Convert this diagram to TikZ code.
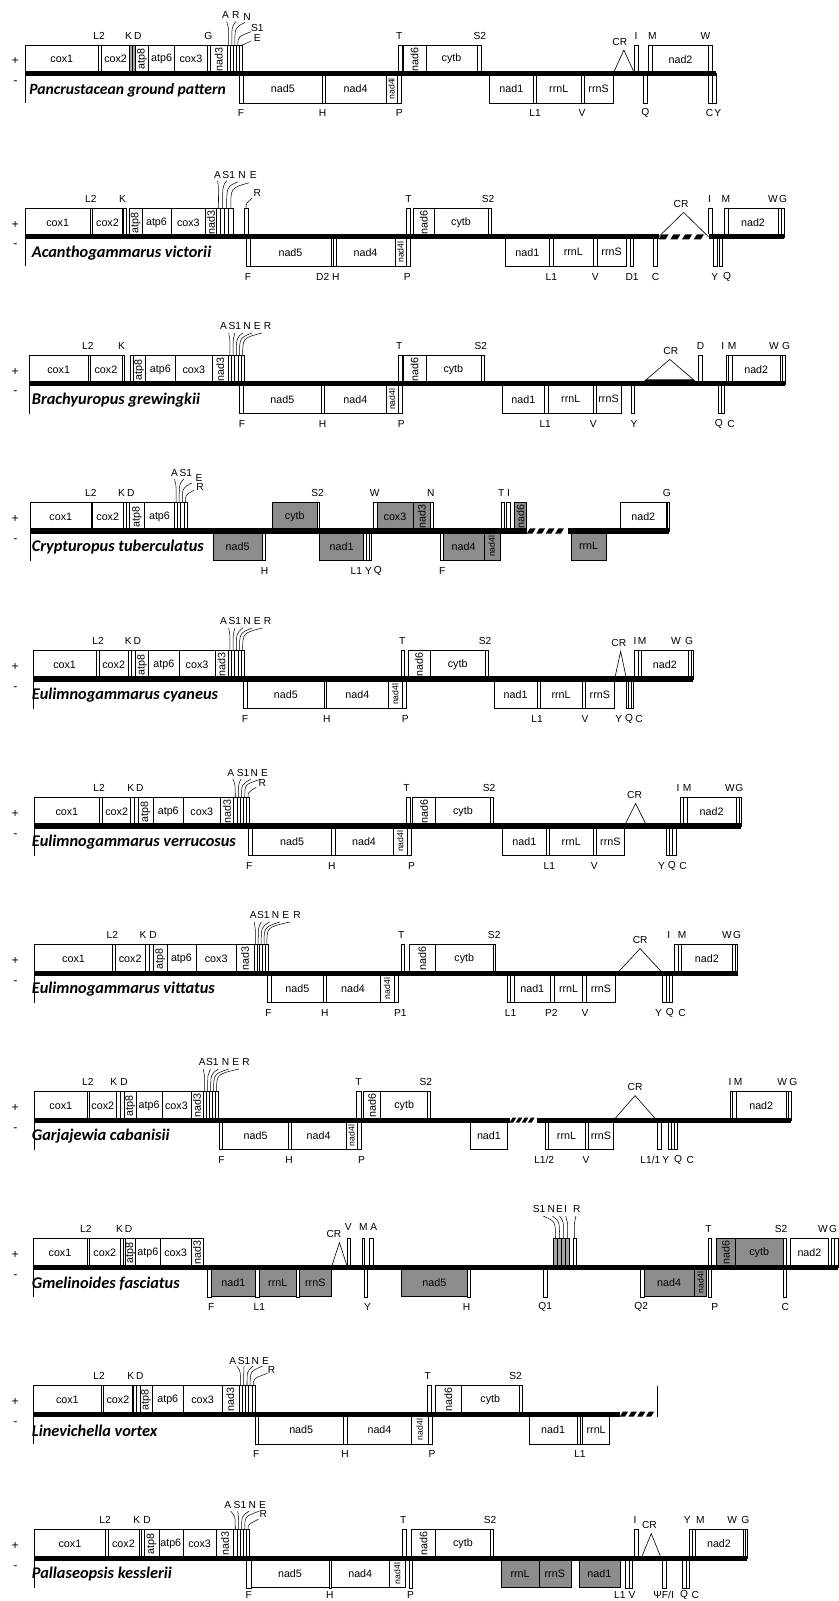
\documentclass[tikz,border=0pt]{standalone}
\usepackage{fontspec}
\setmainfont{Liberation Sans}
\newfontfamily\gf{Liberation Sans}
\newfontfamily\spf{Carlito}
\newcounter{nn}
\newcommand\NN{\stepcounter{nn}\edef\nm{n\arabic{nn}}}
\tikzset{
 gbox/.style={draw=black,line width=0.5pt,fill=white},
 graybox/.style={draw=black,line width=0.5pt,fill=black!45},
 trna/.style={draw=black,line width=0.45pt,fill=white},
 trnag/.style={draw=black,line width=0.45pt,fill=black!35},
 leader/.style={line width=0.5pt},
 gl/.style={font=\gf\fontsize{10.5}{11}\selectfont,inner sep=0pt},
 glr/.style={font=\gf\fontsize{10.5}{11}\selectfont,inner sep=0pt,rotate=90},
 glrs/.style={font=\gf\fontsize{8.5}{9}\selectfont,inner sep=0pt,rotate=90},
 tl/.style={font=\gf\fontsize{10}{11}\selectfont,inner sep=0pt},
 mainline/.style={line width=5pt},
 crl/.style={line width=0.6pt},
 spn/.style={font=\spf\bfseries\itshape\fontsize{16}{17}\selectfont,anchor=west,inner sep=0pt},
 pmn/.style={font=\fontsize{12}{13}\selectfont,inner sep=0pt},
}
\newcommand\gUB[3]{\draw[gbox] (#1,-28) rectangle (#2,0);\NN\node[gl] (\nm) at ({(#1+#2)/2},-14) {#3};}
\newcommand\gUBr[3]{\draw[gbox] (#1,-28) rectangle (#2,0);\NN\node[glr] (\nm) at ({(#1+#2)/2},-14) {#3};}
\newcommand\gUG[3]{\draw[graybox] (#1,-28) rectangle (#2,0);\NN\node[gl] (\nm) at ({(#1+#2)/2},-14) {#3};}
\newcommand\gUGr[3]{\draw[graybox] (#1,-28) rectangle (#2,0);\NN\node[glr] (\nm) at ({(#1+#2)/2},-14) {#3};}
\newcommand\gDB[3]{\draw[gbox] (#1,0) rectangle (#2,29);\NN\node[gl] (\nm) at ({(#1+#2)/2},15) {#3};}
\newcommand\gDBl[2]{\draw[gbox] (#1,0) rectangle (#2,29);\NN\node[glrs] (\nm) at ({(#1+#2)/2},15) {nad4l};}
\newcommand\gDG[3]{\draw[graybox] (#1,0) rectangle (#2,29);\NN\node[gl] (\nm) at ({(#1+#2)/2},15) {#3};}
\newcommand\gDGl[2]{\draw[graybox] (#1,0) rectangle (#2,29);\NN\node[glrs] (\nm) at ({(#1+#2)/2},15) {nad4l};}
\newcommand\gUT[2]{\draw[trna] (#1,-28) rectangle (#2,0);}
\newcommand\gUTg[2]{\draw[trnag] (#1,-28) rectangle (#2,0);}
\newcommand\gDT[2]{\draw[trna] (#1,0) rectangle (#2,29);}
\newcommand\gUTn[3]{\foreach \i in {1,...,#3}{\draw[trna] ({#1+(\i-1)*(#2-#1)/#3},-28) rectangle ({#1+\i*(#2-#1)/#3},0);}}
\newcommand\gUTgn[3]{\foreach \i in {1,...,#3}{\draw[trnag] ({#1+(\i-1)*(#2-#1)/#3},-28) rectangle ({#1+\i*(#2-#1)/#3},0);}}
\newcommand\gDTn[3]{\foreach \i in {1,...,#3}{\draw[trna] ({#1+(\i-1)*(#2-#1)/#3},0) rectangle ({#1+\i*(#2-#1)/#3},29);}}
\newcommand\gTL[2]{\NN\node[tl] (\nm) at (#1,-37) {#2};}
\newcommand\gBL[2]{\NN\node[tl] (\nm) at (#1,39) {#2};}
\newcommand\gBLs[2]{\NN\node[tl] (\nm) at (#1,36) {#2};}
\newcommand\gAL[3]{\NN\node[tl] (\nm) at (#1,#2) {#3};}
\newcommand\gLD[3]{\draw[leader] (#1,-28) .. controls (#1,{#3+5}) .. (#2,#3);}
\newcommand\gCR[4]{\draw[crl] (#1,0) -- ({(#1+#2)/2},#3) -- (#2,0);\NN\node[tl] (\nm) at (#4,{#3-8}) {CR};}
\newcommand\gML[2]{\draw[mainline] (#1,0) -- (#2,0); \draw[line width=0.5pt] (#1,0) -- (#1,29);}
\newcommand\gHT[2]{\fill[white] (#1,-2.6) rectangle (#2,2.6);
 \foreach \k in {0,...,3}{\fill[black] ({#1+3+\k*(#2-#1-3)/4},-2.5) -- ({#1+3+\k*(#2-#1-3)/4+(#2-#1-3)/4*0.6},-2.5) -- ({#1+\k*(#2-#1-3)/4+(#2-#1-3)/4*0.6},2.5) -- ({#1+\k*(#2-#1-3)/4},2.5) -- cycle;}}
\newcommand\gPM{\NN\node[pmn] (\nm) at (15,-12) {+};\NN\node[pmn] (\nm) at (15,9) {-};}
\newcommand\gSP[1]{\NN\node[spn] (\nm) at (31,16) {#1};}
\begin{document}
\begin{tikzpicture}[x=1pt,y=-1pt]
\fill[white] (0,0) rectangle (821,1568);
\useasboundingbox (0,0) rectangle (821,1568);
% Row 1
\begin{scope}[shift={(0,72)}]
\gUB{25}{96}{cox1}\gUT{96}{99.5}\gUB{99.5}{127}{cox2}\gUTg{127}{129.7}\gUTg{129.7}{132.5}\gUBr{132.5}{145.5}{atp8}\gUB{145.5}{171}{atp6}\gUB{171}{203}{cox3}\gUT{203}{206}\gUBr{206}{222.5}{nad3}\gUTn{222.5}{237}{5}
\gUT{390}{394}\gUBr{395}{417}{nad6}\gUB{417}{467.5}{cytb}\gUT{467.5}{471}
\gUT{621.5}{625.5}\gUT{635}{639}\gUB{639}{694}{nad2}\gUT{694}{698}
\gDT{234}{238}\gDB{238}{316}{nad5}\gDT{316}{318.5}\gDB{318.5}{378}{nad4}\gDBl{378}{389}\gDT{389}{393}
\gDB{479.5}{522}{nad1}\gDT{522}{525.5}\gDB{525.5}{569}{rrnL}\gDT{569}{572}\gDB{572}{600.5}{rrnS}
\gDT{630}{633.5}\gDT{694}{697.5}\gDT{697.5}{701}
\gML{25}{701}
\gCR{600.5}{621.5}{-23}{607}
\gPM
\NN\node[spn,font=\spf\bfseries\itshape\fontsize{15.3}{16}\selectfont] (\nm) at (28.5,16) {Pancrustacean ground pattern};
\gTL{97}{L2}\gTL{126}{K}\gTL{135}{D}\gTL{204}{G}\gTL{391}{T}\gTL{470}{S2}\gTL{623}{I}\gTL{639}{M}\gTL{691}{W}
\gLD{224}{222}{-51}\gLD{227}{231}{-51}\gLD{230}{240}{-50}\gLD{233}{246}{-41}\gLD{236}{246}{-32}
\gAL{221}{-57}{A}\gAL{231}{-57}{R}\gAL{242}{-55}{N}\gAL{252}{-45}{S1}\gAL{252}{-35}{E}
\gBL{236}{F}\gBL{316}{H}\gBL{391}{P}\gBL{524}{L1}\gBL{570}{V}\gBL{632}{Q}\gBL{695}{C}\gBL{703}{Y}
\end{scope}
% Row 2
\begin{scope}[shift={(0,232)}]
\gUB{25}{88}{cox1}\gUT{88}{90.5}\gUB{90.5}{120}{cox2}\gUT{121}{124}\gUBr{127}{139}{atp8}\gUB{139}{167.5}{atp6}\gUB{167.5}{201.5}{cox3}\gUBr{201.5}{212}{nad3}\gUTn{212}{228}{4}\gUT{239}{243}
\gUT{398}{402}\gUBr{405}{425}{nad6}\gUB{425}{478}{cytb}\gUT{478}{481}
\gUT{694}{697.5}\gUT{709}{713}\gUB{713}{762}{nad2}\gUT{762}{765}\gUT{765}{768}
\gDT{241}{245}\gDB{245}{324}{nad5}\gDT{324}{326.5}\gDT{326.5}{329}\gDB{329}{387}{nad4}\gDBl{387}{397.5}\gDT{397.5}{401.5}
\gDB{495}{538}{nad1}\gDT{538}{542}\gDB{542}{581}{rrnL}\gDT{581}{585}\gDB{585}{613}{rrnS}\gDT{617}{620.5}\gDT{640}{643.5}\gDT{699}{702.5}\gDT{704}{707.5}
\gML{25}{768}\gHT{645}{694}
\gCR{645}{694}{-24}{667}
\gPM\gSP{Acanthogammarus victorii}
\gTL{89}{L2}\gTL{120}{K}\gTL{400}{T}\gTL{478}{S2}\gTL{695}{I}\gTL{711}{M}\gTL{757}{W}\gTL{767}{G}
\gLD{214}{213}{-55}\gLD{218}{222}{-55}\gLD{222}{233}{-54}\gLD{226}{244}{-53}\gLD{241}{247}{-38}
\gAL{213}{-61}{A}\gAL{224}{-61}{S1}\gAL{237}{-61}{N}\gAL{248}{-61}{E}\gAL{252}{-43}{R}
\gBL{243}{F}\gBL{316}{D2}\gBL{329}{H}\gBL{399}{P}\gBL{540}{L1}\gBL{583}{V}\gBL{619}{D1}\gBL{642}{C}\gBL{700}{Y}\gBL{712}{Q}
\end{scope}
% Row 3
\begin{scope}[shift={(0,376)}]
\gUB{29}{86}{cox1}\gUT{86}{88}\gUB{88}{119.5}{cox2}\gUT{119.5}{122}\gUT{128}{130.5}\gUBr{130.5}{142.4}{atp8}\gUB{142.4}{171.7}{atp6}\gUB{171.7}{208}{cox3}\gUBr{208}{223.6}{nad3}\gUTn{223.6}{239.3}{5}
\gUT{390}{393.7}\gUBr{395}{417}{nad6}\gUB{417}{471}{cytb}\gUT{471}{474}
\gUT{684}{687.5}\gUT{711}{713.6}\gUT{713.6}{717.3}\gUB{717.3}{764}{nad2}\gUT{764}{766.3}\gUT{766.3}{768.6}
\gDT{234}{238}\gDB{238}{315}{nad5}\gDT{315}{318}\gDB{318}{378}{nad4}\gDBl{378}{390}\gDT{390}{393.7}
\gDB{492}{533}{nad1}\gDT{533}{537}\gDB{537}{581}{rrnL}\gDT{581}{584}\gDB{584}{608}{rrnS}\gDT{618}{621}\gDT{703}{706}\gDT{706}{709}
\gML{29}{768.6}
\gCR{628}{684}{-24}{657}
\fill (630,-1) -- (682,-1) -- (679,-4.5) -- (633,-4.5) -- cycle;
\gPM\gSP{Brachyuropus grewingkii}
\gTL{86}{L2}\gTL{119}{K}\gTL{391}{T}\gTL{471}{S2}\gTL{686}{D}\gTL{708}{I}\gTL{717}{M}\gTL{758}{W}\gTL{770}{G}
\gLD{225.2}{224}{-50}\gLD{228.3}{230}{-50}\gLD{231.5}{238}{-50}\gLD{234.6}{247}{-50}\gLD{237.7}{257}{-50}
\gAL{219}{-57}{A}\gAL{230}{-57}{S1}\gAL{242}{-57}{N}\gAL{252}{-57}{E}\gAL{262}{-57}{R}
\gBL{237}{F}\gBL{316}{H}\gBL{393}{P}\gBL{534}{L1}\gBL{581}{V}\gBL{621}{Y}\gBL{704}{Q}\gBL{716}{C}
\end{scope}
% Row 4
\begin{scope}[shift={(0,520)}]
\gUB{30}{89}{cox1}\gUT{89}{90.6}\gUB{90.6}{120.4}{cox2}\gUT{120.4}{123.7}\gUT{123.7}{127}\gUBr{127}{141.4}{atp8}\gUB{141.4}{171}{atp6}\gUTn{171}{183}{4}
\gUG{267}{310.5}{cytb}\gUT{310.5}{313}
\gUT{365.4}{369}\gUG{369}{404.7}{cox3}\gUGr{404.7}{421.5}{nad3}\gUT{421.5}{424}
\gUT{491}{493.7}\gUT{496}{500}\gUGr{503.7}{515.7}{nad6}
\gUB{607}{653}{nad2}\gUT{653}{655.5}
\gDG{209}{256.5}{nad5}\gDT{256.5}{260}\gDG{313}{356}{nad1}\gDTn{356}{364}{3}\gDT{431}{434}\gDG{434}{474}{nad4}\gDGl{474}{489.5}\gDG{559}{594}{rrnL}
\gML{30}{655.5}\gHT{516}{556}
\gPM\gSP{Crypturopus tuberculatus}
\gTL{89}{L2}\gTL{119}{K}\gTL{128}{D}\gTL{311}{S2}\gTL{367}{W}\gTL{422}{N}\gTL{491}{T}\gTL{498}{I}\gTL{653}{G}
\gLD{172.5}{171}{-51}\gLD{175.5}{180}{-51}\gLD{178.5}{188}{-47}\gLD{181.5}{190}{-40}
\gAL{171}{-57}{A}\gAL{182}{-57}{S1}\gAL{195}{-52}{E}\gAL{196}{-43}{R}
\gBL{259}{H}\gBL{349}{L1}\gBL{361}{Y}\gBL{370}{Q}\gBL{433}{F}
\end{scope}
% Row 5
\begin{scope}[shift={(0,665)}]
\gUB{32.5}{94}{cox1}\gUT{94}{97}\gUB{97}{125.6}{cox2}\gUT{125.6}{129}\gUT{129}{132.5}\gUBr{132.5}{145.5}{atp8}\gUB{145.5}{175.4}{atp6}\gUB{175.4}{210.5}{cox3}\gUBr{210.5}{223.6}{nad3}\gUTn{223.6}{239.3}{5}
\gUT{392.7}{396.3}\gUBr{399.5}{421.5}{nad6}\gUB{421.5}{475}{cytb}\gUT{475}{478}
\gUT{621.5}{624.6}\gUT{624.6}{628.3}\gUB{628.3}{674}{nad2}\gUT{674}{676.5}\gUT{676.5}{679}
\gDT{238}{242}\gDB{242}{318}{nad5}\gDT{318}{320}\gDB{320}{380}{nad4}\gDBl{380}{394}\gDT{394}{398}
\gDB{484}{526}{nad1}\gDT{526}{529}\gDB{529}{570}{rrnL}\gDT{570}{573}\gDB{573}{602}{rrnS}\gDTn{613.5}{620}{3}
\gML{32.5}{679}
\gCR{602}{613.6}{-27}{606}
\gPM\gSP{Eulimnogammarus cyaneus}
\gTL{96}{L2}\gTL{125.6}{K}\gTL{134.5}{D}\gTL{394}{T}\gTL{475}{S2}\gTL{622}{I}\gTL{629}{M}\gTL{662}{W}\gTL{675}{G}
\gLD{225.2}{224}{-50}\gLD{228.3}{230}{-50}\gLD{231.5}{238}{-50}\gLD{234.6}{247}{-50}\gLD{237.7}{257}{-50}
\gAL{219}{-57}{A}\gAL{230}{-57}{S1}\gAL{242}{-57}{N}\gAL{252}{-57}{E}\gAL{262}{-57}{R}
\gBL{240}{F}\gBL{320}{H}\gBL{397}{P}\gBL{526}{L1}\gBL{573}{V}\gBL{606}{Y}\gBL{616}{Q}\gBL{626}{C}
\end{scope}
% Row 6
\begin{scope}[shift={(0,809)}]
\gUB{34}{97}{cox1}\gUT{97}{100.5}\gUB{100.5}{128}{cox2}\gUT{128}{131.5}\gUT{131.5}{135}\gUBr{135}{150}{atp8}\gUB{150}{179.6}{atp6}\gUB{179.6}{215.7}{cox3}\gUBr{215.7}{228.8}{nad3}\gUTn{228.8}{244.5}{5}
\gUT{398}{402}\gUBr{404}{426.7}{nad6}\gUB{426.7}{480}{cytb}\gUT{480}{482.7}
\gUT{666}{669}\gUT{669}{672.8}\gUB{672.8}{721}{nad2}\gUT{721}{723.5}\gUT{723.5}{726}
\gDT{243.5}{247.5}\gDB{247.5}{324.6}{nad5}\gDT{324.6}{328}\gDB{328}{385}{nad4}\gDBl{385}{399}\gDT{399}{403}
\gDB{492}{535}{nad1}\gDT{535}{538}\gDB{538}{581}{rrnL}\gDT{581}{584}\gDB{584}{611.5}{rrnS}\gDTn{652}{662}{3}
\gML{34}{726}\gCR{611.5}{633.5}{-22}{621.5}
\gPM\gSP{Eulimnogammarus verrucosus}
\gTL{97}{L2}\gTL{128}{K}\gTL{137}{D}\gTL{398}{T}\gTL{479}{S2}\gTL{664}{I}\gTL{673}{M}\gTL{715}{W}\gTL{724}{G}
\gLD{230.4}{228}{-46}\gLD{233.5}{236}{-46}\gLD{236.6}{246}{-46}\gLD{239.7}{256}{-46}\gLD{242.9}{251}{-38}
\gAL{226}{-52}{A}\gAL{238}{-52}{S1}\gAL{249}{-52}{N}\gAL{259}{-52}{E}\gAL{257}{-42}{R}
\gBL{244}{F}\gBL{325}{H}\gBL{403}{P}\gBL{538}{L1}\gBL{582}{V}\gBL{648}{Y}\gBL{658}{Q}\gBL{669}{C}
\end{scope}
% Row 7
\begin{scope}[shift={(0,953)}]
\gUB{34}{110}{cox1}\gUT{110}{112.6}\gUB{112.6}{142.4}{cox2}\gUT{142.4}{146.4}\gUT{146.4}{150.3}\gUBr{150.3}{163.4}{atp8}\gUB{163.4}{192}{atp6}\gUB{192}{231.4}{cox3}\gUBr{231.4}{248.7}{nad3}\gUTn{248.7}{262.8}{5}
\gUT{392.7}{396.3}\gUBr{400.5}{426.7}{nad6}\gUB{426.7}{482.7}{cytb}\gUT{482.7}{485.3}
\gUT{660.7}{664}\gUT{664}{667.5}\gUB{667.5}{717}{nad2}\gUT{717}{719.7}\gUT{719.7}{722.5}
\gDT{262}{265.5}\gDB{265.5}{317}{nad5}\gDT{317}{319.5}\gDB{319.5}{372}{nad4}\gDBl{372}{386}\gDT{386}{390}
\gDT{497}{500}\gDT{500}{503.6}\gDB{503.6}{539}{nad1}\gDT{539}{543}\gDB{543}{570.7}{rrnL}\gDT{570.7}{574}\gDB{574}{603}{rrnS}\gDTn{649}{658.6}{3}
\gML{34}{722.5}\gCR{604.7}{649}{-24}{627}
\gPM\gSP{Eulimnogammarus vittatus}
\gTL{110}{L2}\gTL{140}{K}\gTL{150}{D}\gTL{393}{T}\gTL{484}{S2}\gTL{655}{I}\gTL{668}{M}\gTL{712}{W}\gTL{722}{G}
\gLD{250.1}{249}{-50}\gLD{252.9}{256}{-50}\gLD{255.8}{264}{-50}\gLD{258.6}{274}{-50}\gLD{261.4}{284}{-50}
\gAL{248}{-57}{A}\gAL{258}{-57}{S1}\gAL{270}{-57}{N}\gAL{280}{-57}{E}\gAL{291}{-57}{R}
\gBL{263}{F}\gBL{318}{H}\gBL{392}{P1}\gBL{500}{L1}\gBL{540}{P2}\gBL{573}{V}\gBL{645}{Y}\gBL{656}{Q}\gBL{668}{C}
\end{scope}
% Row 8
\begin{scope}[shift={(0,1097)}]
\gUB{34}{85}{cox1}\gUT{85}{87.4}\gUB{87.4}{114}{cox2}\gUT{114}{117.7}\gUT{117.7}{121.5}\gUBr{121.5}{133.5}{atp8}\gUB{133.5}{158.6}{atp6}\gUB{158.6}{187}{cox3}\gUBr{187}{199}{nad3}\gUTn{199}{213.6}{5}
\gUT{349}{353.4}\gUBr{356}{372.8}{nad6}\gUB{372.8}{418.8}{cytb}\gUT{418.8}{421.5}
\gUT{714.7}{717.3}\gUT{717.3}{721.5}\gUB{721.5}{769.6}{nad2}\gUT{769.6}{772.3}\gUT{772.3}{775}
\gDT{214.7}{218}\gDB{218}{282.7}{nad5}\gDT{282.7}{285}\gDB{285}{339}{nad4}\gDBl{339}{349.5}\gDT{349.5}{353.4}
\gDB{460.7}{497}{nad1}\gDT{534}{536.6}\gDB{536.6}{573}{rrnL}\gDT{573}{576}\gDB{576}{601}{rrnS}\gDT{644}{647.6}\gDTn{654}{663}{3}
\gML{34}{775}\gHT{499}{526}\gCR{601}{643}{-24}{622}
\gPM\gSP{Garjajewia cabanisii}
\gTL{86}{L2}\gTL{111.5}{K}\gTL{121.5}{D}\gTL{351}{T}\gTL{417}{S2}\gTL{715}{I}\gTL{723}{M}\gTL{766}{W}\gTL{777}{G}
\gLD{200.5}{199}{-50}\gLD{203.4}{206}{-50}\gLD{206.3}{214}{-50}\gLD{209.2}{224}{-50}\gLD{212.1}{234}{-50}
\gAL{198}{-57}{A}\gAL{208}{-57}{S1}\gAL{221}{-57}{N}\gAL{231}{-57}{E}\gAL{241}{-57}{R}
\gBL{217}{F}\gBL{283}{H}\gBL{354}{P}\gBL{533}{L1/2}\gBL{574}{V}\gBL{637}{L1/1}\gBL{652}{Y}\gBL{664}{Q}\gBL{676}{C}
\end{scope}
% Row 9
\begin{scope}[shift={(0,1241)}]
\gUB{32.5}{85}{cox1}\gUT{85}{87.4}\gUB{87.4}{117.8}{cox2}\gUT{117.8}{120.4}\gUT{120.4}{123}\gUBr{123}{132.5}{atp8}\gUB{132.5}{157}{atp6}\gUB{157}{187}{cox3}\gUBr{187}{199}{nad3}
\gUT{340.3}{343}\gUT{354.5}{357}\gUT{362}{365.4}
\gUTgn{542}{557.6}{4}\gUT{561}{564}
\gUT{693.7}{696.3}\gUGr{701.6}{720}{nad6}\gUG{720}{767}{cytb}\gUT{767}{769.6}\gUB{774}{811.5}{nad2}\gUT{814}{817.5}\gUT{817.5}{821}
\gDT{203}{207}\gDG{207}{250}{nad1}\gDT{250}{254}\gDG{254}{290}{rrnL}\gDT{290}{293}\gDG{293}{324.6}{rrnS}\gDT{357}{360}\gDG{392.7}{458}{nad5}\gDT{458}{461}\gDT{532}{535.5}\gDT{627}{630.5}\gDG{630.5}{680}{nad4}\gDGl{680}{692}\gDT{693.7}{697}\gDT{767}{770}
\gML{32.5}{821}\gCR{324.6}{340.3}{-24}{327}
\gPM\gSP{Gmelinoides fasciatus}
\gTL{84}{L2}\gTL{117}{K}\gTL{126}{D}\gTL{694}{T}\gTL{765}{S2}\gTL{806}{W}\gTL{816}{G}
\gAL{341}{-39}{V}\gAL{356}{-39}{M}\gAL{366}{-39}{A}
\gLD{544}{532}{-50}\gLD{548}{541}{-50}\gLD{552}{548}{-50}\gLD{556}{554}{-50}\gLD{562.5}{564}{-50}
\gAL{528}{-57}{S1}\gAL{540}{-57}{N}\gAL{548}{-57}{E}\gAL{554}{-57}{I}\gAL{565}{-57}{R}
\gBL{207}{F}\gBL{254}{L1}\gBL{360}{Y}\gBL{457}{H}\gBL{534}{Q1}\gBL{628}{Q2}\gBL{700}{P}\gBL{769}{C}
\end{scope}
% Row 10
\begin{scope}[shift={(0,1385)}]
\gUB{32.5}{99.5}{cox1}\gUT{99.5}{101}\gUB{101}{130}{cox2}\gUT{130}{133.5}\gUT{133.5}{137}\gUBr{137}{149}{atp8}\gUB{149}{179.6}{atp6}\gUB{179.6}{217.3}{cox3}\gUBr{217.3}{234}{nad3}\gUTn{234}{249.7}{5}
\gUT{418.8}{422.5}\gUBr{426.7}{451.3}{nad6}\gUB{451.3}{509}{cytb}\gUT{509}{511.5}
\gDT{249.7}{253.4}\gDB{253.4}{336.6}{nad5}\gDT{336.6}{340.3}\gDB{340.3}{403}{nad4}\gDBl{403}{419}\gDT{419}{423}
\gDB{518}{565.4}{nad1}\gDT{565.4}{568}\gDT{568}{570.7}\gDB{570.7}{597}{rrnL}
\gML{32.5}{644}\gHT{607}{644}
\draw[line width=0.6pt] (644,-28) -- (644,3);
\gPM\gSP{Linevichella vortex}
\gTL{97}{L2}\gTL{128}{K}\gTL{137}{D}\gTL{419}{T}\gTL{505}{S2}
\gLD{235.6}{232}{-47}\gLD{238.7}{239}{-47}\gLD{241.9}{248}{-47}\gLD{245}{257}{-47}\gLD{248.1}{262}{-40}
\gAL{228}{-52}{A}\gAL{239}{-52}{S1}\gAL{250}{-52}{N}\gAL{260}{-52}{E}\gAL{266}{-43}{R}
\gBL{251}{F}\gBL{338}{H}\gBL{423}{P}\gBL{568}{L1}
\end{scope}
% Row 11
\begin{scope}[shift={(0,1526)}]
\gUB{34}{103}{cox1}\gUT{103}{105.8}\gUB{105.8}{136}{cox2}\gUT{136}{138.7}\gUT{138.7}{141.4}\gUBr{141.4}{155.5}{atp8}\gUB{155.5}{179}{atp6}\gUB{179}{212}{cox3}\gUBr{212}{228.8}{nad3}\gUTn{228.8}{244.5}{5}
\gUT{393.7}{398}\gUBr{403}{426.7}{nad6}\gUB{426.7}{480}{cytb}\gUT{480}{482.7}
\gUT{621.5}{624.6}\gUT{675.4}{678}\gUT{678}{680.6}\gUB{680.6}{727.7}{nad2}\gUT{727.7}{729.5}\gUT{729.5}{731.4}
\gDT{241}{246}\gDB{246}{322}{nad5}\gDT{322}{324.6}\gDB{324.6}{381}{nad4}\gDBl{381}{397}\gDT{400.5}{404}
\gDG{491}{527.7}{rrnL}\gDG{527.7}{559}{rrnS}\gDG{567}{607}{nad1}\gDT{612.6}{616}\gDT{616}{619.4}\gDT{649}{652}\gDT{668.6}{672}\gDT{672}{675.4}
\gML{34}{731.4}\gCR{628}{647.6}{-24}{636}
\gPM\gSP{Pallaseopsis kesslerii}
\gTL{103}{L2}\gTL{134}{K}\gTL{144}{D}\gTL{395}{T}\gTL{480}{S2}\gTL{622}{I}\gTL{673}{Y}\gTL{686}{M}\gTL{717}{W}\gTL{730}{G}
\gLD{230.4}{226}{-46}\gLD{233.5}{233}{-46}\gLD{236.6}{244}{-46}\gLD{239.7}{254}{-46}\gLD{242.9}{253}{-38}
\gAL{223}{-52}{A}\gAL{235}{-52}{S1}\gAL{247}{-52}{N}\gAL{257}{-52}{E}\gAL{258}{-43}{R}
\gBLs{243.5}{F}\gBLs{323}{H}\gBLs{402}{P}\gBLs{607}{L1}\gBLs{619}{V}\gBLs{650}{ΨF/I}\gBLs{670}{Q}\gBLs{681}{C}
\end{scope}
\end{tikzpicture}
\end{document}
